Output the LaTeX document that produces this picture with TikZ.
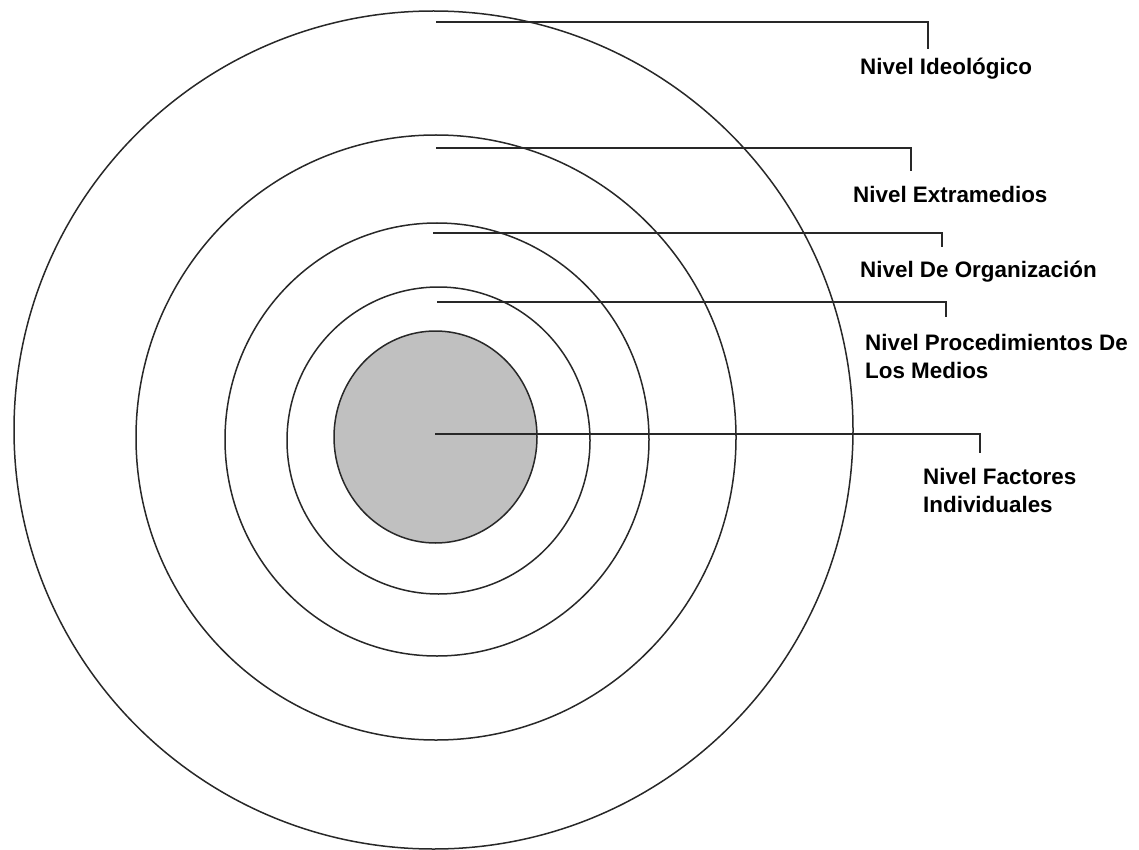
\documentclass[tikz,border=0pt]{standalone}
\usepackage{fontspec}
\setmainfont{Liberation Sans}
\usepackage{tikz}
\usetikzlibrary{positioning}
\definecolor{coregray}{RGB}{192,192,192}
\definecolor{inkgray}{RGB}{40,40,40}

\begin{document}
\begin{tikzpicture}[x=1pt, y=-1pt
        , ring/.style={draw=inkgray, line width=1.5pt}
        , leader/.style={draw=inkgray, line width=1.5pt}
        , nivel/.style={inner sep=0pt, align=left
            , font=\bfseries\fontsize{22.4}{28}\selectfont}
        ]
        \useasboundingbox (0,0) rectangle (1139,850);

        % rings, outer to inner
        \draw[ring] (433.5,430) ellipse (419.5 and 419);
        \draw[ring] (436,437.5) ellipse (300 and 302.5);
        \draw[ring] (437,439.5) ellipse (212 and 216.5);
        \draw[ring] (438.5,440.5) ellipse (151.5 and 153.5);
        \filldraw[ring, fill=coregray] (435.5,437) ellipse (101.5 and 106);

        % labels
        \node[nivel, anchor=base west] (ideo) at (860,75) {Nivel Ideológico};
        \node[nivel, anchor=base west] (extra) at (853,203) {Nivel Extramedios};
        \node[nivel, anchor=base west] (organ) at (860,277) {Nivel De Organización};
        \node[nivel, anchor=north west] (proced) at (865,334) {Nivel Procedimientos De\\Los Medios};
        \node[nivel, anchor=north west] (factor) at (923,468) {Nivel Factores\\Individuales};

        % leader lines
        \coordinate (ideo-s) at (436,22);
        \coordinate (ideo-e) at (928,49);
        \coordinate (extra-s) at (436,148);
        \coordinate (extra-e) at (911,171);
        \coordinate (organ-s) at (433,233);
        \coordinate (organ-e) at (942,247);
        \coordinate (proced-s) at (437,302);
        \coordinate (proced-e) at (946,317);
        \coordinate (factor-s) at (435,434);
        \coordinate (factor-e) at (980,453);

        \draw[leader] (ideo-s) -| (ideo-e);
        \draw[leader] (extra-s) -| (extra-e);
        \draw[leader] (organ-s) -| (organ-e);
        \draw[leader] (proced-s) -| (proced-e);
        \draw[leader] (factor-s) -| (factor-e);
    \end{tikzpicture}
\end{document}
